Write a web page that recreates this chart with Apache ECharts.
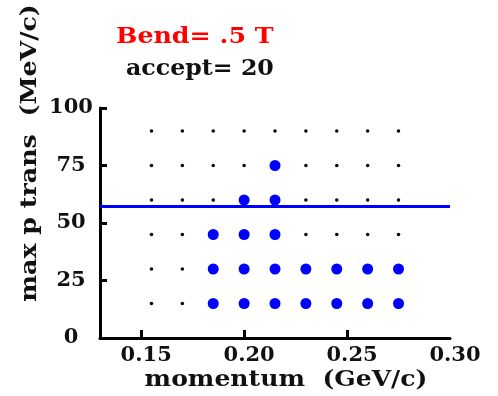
<!DOCTYPE html>
<html>
<head>
<meta charset="utf-8">
<script src="https://cdn.jsdelivr.net/npm/echarts@6/dist/echarts.min.js"></script>
<style>
  html, body { margin: 0; padding: 0; background: #ffffff; }
  #chart { width: 498px; height: 396px; }
</style>
</head>
<body>
<div id="chart"></div>
<script>
// Scan grid: momentum columns (GeV/c) and max transverse momentum rows (MeV/c)
const momentumCols = [0.155, 0.17, 0.185, 0.2, 0.215, 0.23, 0.245, 0.26, 0.275];
const ptRows = [15, 30, 45, 60, 75, 90];

// Grid points that were accepted (momentum, max p trans)
const acceptedPoints = [
  [0.185, 15], [0.185, 30], [0.185, 45],
  [0.2, 15], [0.2, 30], [0.2, 45], [0.2, 60],
  [0.215, 15], [0.215, 30], [0.215, 45], [0.215, 60], [0.215, 75],
  [0.23, 15], [0.23, 30],
  [0.245, 15], [0.245, 30],
  [0.26, 15], [0.26, 30],
  [0.275, 15], [0.275, 30]
];

// Transverse momentum cut line (MeV/c)
const ptCut = 57.3;

// Axis tick values
const xTickValues = [0.15, 0.20, 0.25];
const xLabelValues = [0.15, 0.20, 0.25, 0.30];
const yTickValues = [25, 50, 75, 100];
const yLabelValues = [0, 25, 50, 75, 100];

const titleText = 'Bend= .5 T';
const acceptText = 'accept= ' + acceptedPoints.length;

const FONT = '"DejaVu Serif", serif';

// All scan points that were not accepted
const acceptedKey = new Set(acceptedPoints.map(p => p[0] + '|' + p[1]));
const rejectedPoints = [];
momentumCols.forEach(x => ptRows.forEach(y => {
  if (!acceptedKey.has(x + '|' + y)) rejectedPoints.push([x, y]);
}));

const chart = echarts.init(document.getElementById('chart'), null, { renderer: 'canvas' });

chart.setOption({
  backgroundColor: '#ffffff',
  animation: false,
  grid: { left: 100, right: 48, top: 108, bottom: 58 },
  xAxis: {
    type: 'value',
    min: 0.13,
    max: 0.30,
    axisLine: { show: true, lineStyle: { color: '#000', width: 3 } },
    axisTick: {
      show: true, inside: true, length: 8,
      customValues: xTickValues,
      lineStyle: { color: '#000', width: 3 }
    },
    axisLabel: {
      customValues: xLabelValues,
      formatter: v => v.toFixed(2),
      color: '#111',
      fontFamily: FONT,
      fontWeight: 'bold',
      fontSize: 21,
      margin: 7,
      padding: [0, 0, 0, 10]
    },
    splitLine: { show: false }
  },
  yAxis: {
    type: 'value',
    min: 0,
    max: 100,
    axisLine: { show: true, lineStyle: { color: '#000', width: 3 } },
    axisTick: {
      show: true, inside: true, length: 7,
      customValues: yTickValues,
      lineStyle: { color: '#000', width: 3 }
    },
    axisLabel: {
      customValues: yLabelValues,
      color: '#111',
      fontFamily: FONT,
      fontWeight: 'bold',
      fontSize: 21,
      align: 'center',
      margin: 29
    },
    splitLine: { show: false }
  },
  series: [
    {
      name: 'rejected',
      type: 'scatter',
      data: rejectedPoints,
      symbol: 'circle',
      symbolSize: 3.5,
      itemStyle: { color: '#000', opacity: 1 },
      z: 2
    },
    {
      name: 'accepted',
      type: 'scatter',
      data: acceptedPoints,
      symbol: 'circle',
      symbolSize: 11,
      itemStyle: { color: '#0000ff', opacity: 1 },
      z: 3,
      markLine: {
        silent: true,
        symbol: 'none',
        label: { show: false },
        lineStyle: { color: '#0000ff', width: 3, type: 'solid', opacity: 1 },
        data: [{ yAxis: ptCut }]
      }
    }
  ],
  graphic: [
    {
      type: 'text', x: 116, y: 26, scaleX: 1.1,
      style: { text: titleText, fill: '#ff0000', font: 'bold 23px ' + FONT }
    },
    {
      type: 'text', x: 126, y: 58, scaleX: 1.03,
      style: { text: acceptText, fill: '#111', font: 'bold 23px ' + FONT }
    },
    {
      type: 'text', x: 30, y: 153, rotation: Math.PI / 2, scaleX: 1.15,
      style: {
        text: 'max p trans  (MeV/c)', fill: '#111',
        font: 'bold 22px ' + FONT, align: 'center', verticalAlign: 'middle'
      }
    },
    {
      type: 'text', x: 286, y: 380, scaleX: 1.14,
      style: {
        text: 'momentum  (GeV/c)', fill: '#111',
        font: 'bold 22px ' + FONT, align: 'center', verticalAlign: 'middle'
      }
    }
  ]
});
</script>
</body>
</html>
